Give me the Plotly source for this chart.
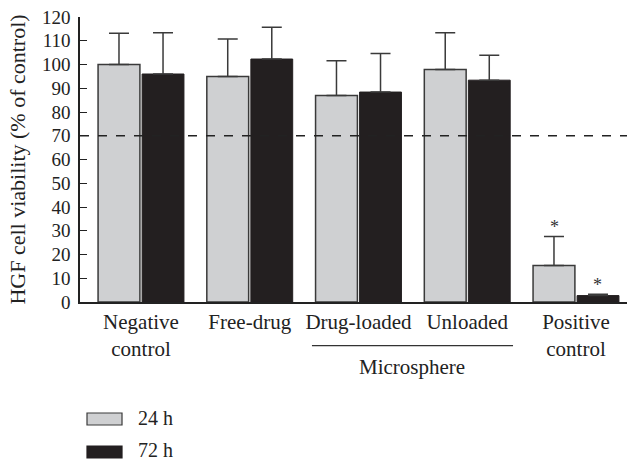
import plotly.graph_objects as go

categories = ["Negative control", "Free-drug", "Drug-loaded", "Unloaded", "Positive control"]
tick_labels = ["Negative<br>control", "Free-drug", "Drug-loaded", "Unloaded", "Positive<br>control"]
series_names = ["24 h", "72 h"]
values_24h = [100.0, 95.0, 86.9, 97.9, 15.4]
err_24h = [13.2, 15.7, 14.7, 15.5, 12.2]
values_72h = [96.0, 102.3, 88.4, 93.4, 2.7]
err_72h = [17.4, 13.4, 16.2, 10.5, 0.6]
threshold = 70
star_24h = [None, None, None, None, "*"]
star_72h = [None, None, None, None, "*"]

FONT = "Liberation Serif"
LIGHT = "#cfd0d2"
DARK = "#231f20"
EDGE = "#3a3a3a"

x_idx = list(range(len(categories)))

fig = go.Figure()
fig.add_trace(go.Bar(
    x=x_idx, y=values_24h, name=series_names[0],
    marker=dict(color=LIGHT, line=dict(color=EDGE, width=1.5)),
    error_y=dict(type="data", symmetric=False, array=err_24h,
                 arrayminus=[0] * len(err_24h), color=EDGE, thickness=1.5, width=10),
    showlegend=False,
))
fig.add_trace(go.Bar(
    x=x_idx, y=values_72h, name=series_names[1],
    marker=dict(color=DARK, line=dict(color=DARK, width=1)),
    error_y=dict(type="data", symmetric=False, array=err_72h,
                 arrayminus=[0] * len(err_72h), color=EDGE, thickness=1.5, width=10),
    showlegend=False,
))

annotations = []
# significance stars
offset = 0.2
for i, (s, v, e) in enumerate(zip(star_24h, values_24h, err_24h)):
    if s:
        annotations.append(dict(x=i - offset, y=v + e + 4.0, xref="x", yref="y", text=s,
                                showarrow=False, font=dict(family=FONT, size=18, color="#333"),
                                yanchor="middle"))
for i, (s, v, e) in enumerate(zip(star_72h, values_72h, err_72h)):
    if s:
        annotations.append(dict(x=i + offset, y=v + e + 3.8, xref="x", yref="y", text=s,
                                showarrow=False, font=dict(family=FONT, size=18, color="#333"),
                                yanchor="middle"))

# Microsphere group label
annotations.append(dict(x=2.49, y=-0.228, xref="x", yref="paper", text="Microsphere",
                        showarrow=False, font=dict(family=FONT, size=21, color="#222"),
                        yanchor="middle"))

# manual legend
legend_rows = [(series_names[0], LIGHT, EDGE, -0.3895, -0.4316, -0.407),
               (series_names[1], DARK, DARK, -0.5053, -0.5474, -0.519)]
shapes = [
    dict(type="line", xref="paper", yref="y", x0=0, x1=1, y0=threshold, y1=threshold,
         line=dict(color="#222", width=1.3, dash="dash"), layer="above"),
    dict(type="line", xref="x", yref="paper", x0=1.572, x1=3.421, y0=-0.1533, y1=-0.1533,
         line=dict(color="#333", width=1.3)),
]
for name, fill, edge, y0, y1, ty in legend_rows:
    shapes.append(dict(type="rect", xref="paper", yref="paper", x0=0.0128, x1=0.0768,
                       y0=y0, y1=y1, fillcolor=fill, line=dict(color=edge, width=1.2)))
    annotations.append(dict(x=0.1024, y=ty, xref="paper", yref="paper", text=name,
                            showarrow=False, xanchor="left", yanchor="middle",
                            font=dict(family=FONT, size=20, color="#222")))

fig.update_layout(
    width=627, height=460,
    margin=dict(l=80, r=0, t=17, b=158),
    paper_bgcolor="white", plot_bgcolor="white",
    barmode="group", bargap=0.19, bargroupgap=0.05,
    font=dict(family=FONT, color="#222"),
    shapes=shapes, annotations=annotations,
    xaxis=dict(range=[-0.561, 4.469], tickmode="array", tickvals=x_idx, ticktext=tick_labels,
               showline=True, linecolor="#222", linewidth=1.5, ticks="", showgrid=False,
               zeroline=False, tickfont=dict(family=FONT, size=21, color="#222")),
    yaxis=dict(range=[0, 120], tickmode="array", tickvals=list(range(0, 121, 10)),
               showline=True, linecolor="#222", linewidth=1.5, ticks="inside", ticklen=7,
               tickcolor="#222", showgrid=False, zeroline=False, ticklabelstandoff=4,
               tickfont=dict(family=FONT, size=19, color="#222"),
               title=dict(text="HGF cell viability (% of control)",
                          font=dict(family=FONT, size=22, color="#222"), standoff=10)),
)

fig.write_html("out.html")
